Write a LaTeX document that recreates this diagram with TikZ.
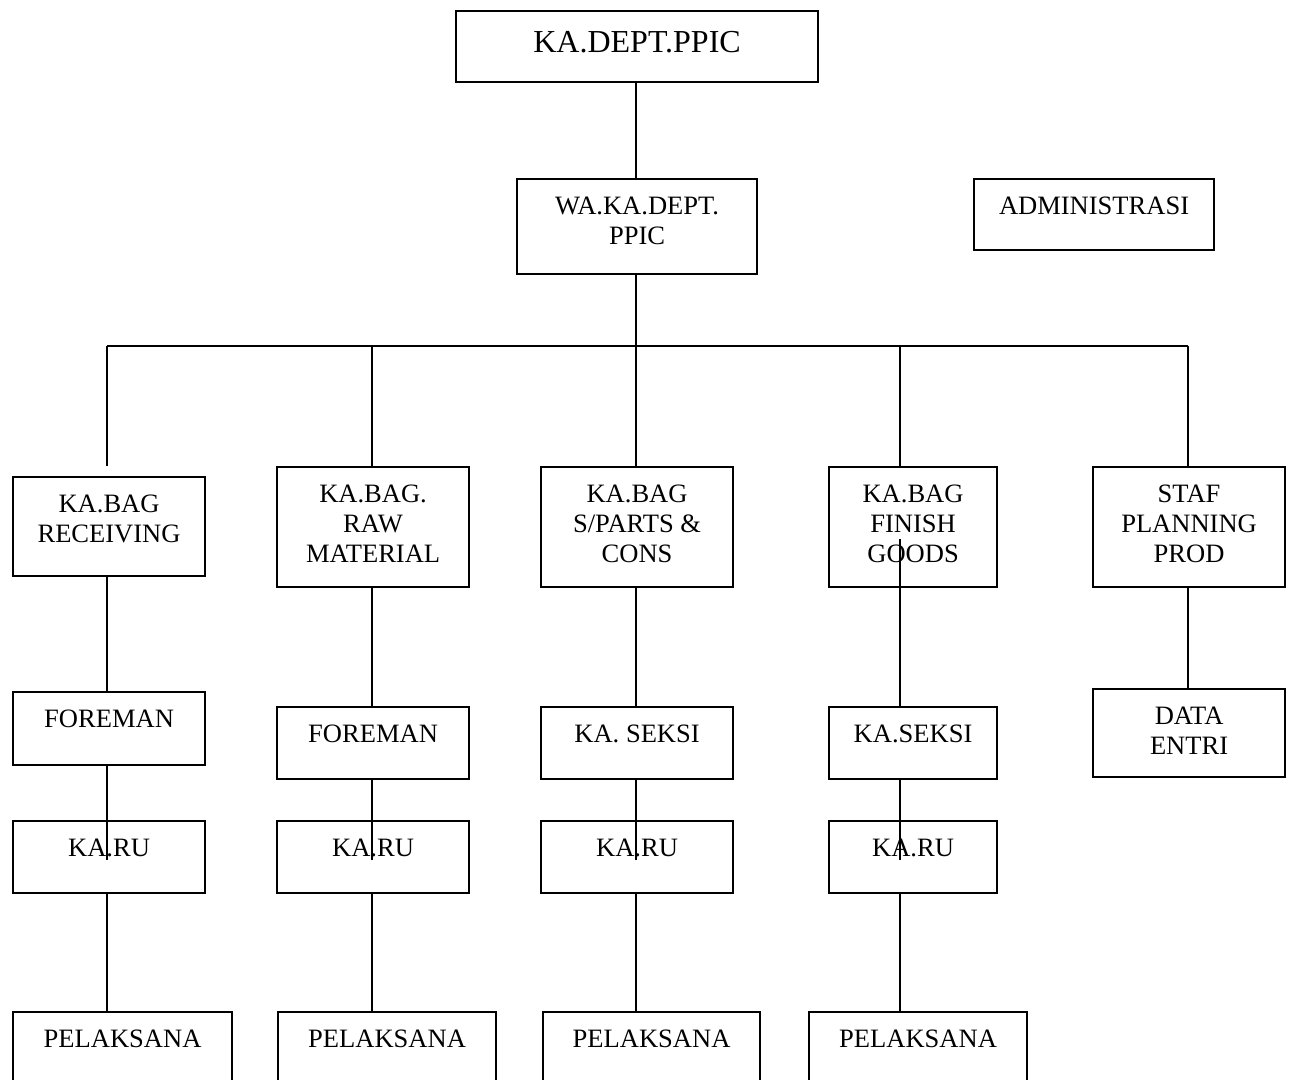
\documentclass[tikz,border=0pt]{standalone}
\usepackage{fontspec}
\setmainfont{Liberation Serif}
\usetikzlibrary{calc}
\tikzset{
  orgbox/.style={draw, line width=1.6pt, rectangle, inner sep=0pt, anchor=north west},
  orgtext/.style={anchor=north, inner sep=0pt, align=center,
    font=\fontsize{19.9pt}{22.5pt}\selectfont},
  toptext/.style={orgtext, font=\fontsize{24pt}{27pt}\selectfont},
  link/.style={line width=1.4pt},
}
% box from (left,top) to (right,bottom), text hung from the top edge
\newcommand{\orgunit}[7][orgtext]{%
  \node[orgbox, minimum width={(#5-#3)*0.75pt}, minimum height={(#6-#4)*0.75pt}] (#2) at (#3,#4) {};
  \node[#1] (#2-t) at ($(#2.north)+(0,19)$) {#7};
}
\begin{document}
\begin{tikzpicture}[x=0.75pt, y=-0.75pt]
\useasboundingbox (0,0) rectangle (1291,1079);
\clip (0,0) rectangle (1291,1079);

% top levels
\node[orgbox, minimum width={(817-455)*0.75pt}, minimum height={(81-10)*0.75pt}] (dept) at (455,10) {};
\node[toptext] (dept-t) at ($(dept.north)+(0,21)$) {KA.DEPT.PPIC};
\orgunit{wadept}{516}{178}{756}{273}{WA.KA.DEPT.\\PPIC}
\orgunit{admin}{973}{178}{1213}{249}{ADMINISTRASI}

% section heads
\orgunit{recv}{12}{476}{204}{575}{KA.BAG\\RECEIVING}
\orgunit{raw}{276}{466}{468}{586}{KA.BAG.\\RAW\\MATERIAL}
\orgunit{spart}{540}{466}{732}{586}{KA.BAG\\S/PARTS \&\\CONS}
\orgunit{finish}{828}{466}{996}{586}{KA.BAG\\FINISH\\GOODS}
\orgunit{staf}{1092}{466}{1284}{586}{STAF\\PLANNING\\PROD}

% second level
\orgunit{fore1}{12}{691}{204}{764}{FOREMAN}
\orgunit{fore2}{276}{706}{468}{778}{FOREMAN}
\orgunit{sek3}{540}{706}{732}{778}{KA. SEKSI}
\orgunit{sek4}{828}{706}{996}{778}{KA.SEKSI}
\orgunit{data}{1092}{688}{1284}{776}{DATA\\ENTRI}

% group leaders
\orgunit{karu1}{12}{820}{204}{892}{KA.RU}
\orgunit{karu2}{276}{820}{468}{892}{KA.RU}
\orgunit{karu3}{540}{820}{732}{892}{KA.RU}
\orgunit{karu4}{828}{820}{996}{892}{KA.RU}

% staff
\orgunit{pel1}{12}{1011}{231}{1100}{PELAKSANA}
\orgunit{pel2}{277}{1011}{495}{1100}{PELAKSANA}
\orgunit{pel3}{542}{1011}{759}{1100}{PELAKSANA}
\orgunit{pel4}{808}{1011}{1026}{1100}{PELAKSANA}

% bus and column coordinates
\coordinate (busA) at (107,346);
\coordinate (busB) at (372,346);
\coordinate (busC) at (636,346);
\coordinate (busD) at (900,346);
\coordinate (busE) at (1188,346);

% connectors
\draw[link] (busC |- dept.south) -- (busC |- wadept.north);
\draw[link] (busC |- wadept.south) -- (busC);
\draw[link] (busA) -- (busE);
\draw[link] (busA) -- ($(busA |- recv.north)+(0,-10)$);
\draw[link] (busB) -- (busB |- raw.north);
\draw[link] (busC) -- (busC |- spart.north);
\draw[link] (busD) -- (busD |- finish.north);
\draw[link] (busE) -- (busE |- staf.north);

% column A
\draw[link] (busA |- recv.south) -- (busA |- fore1.north);
\draw[link] (busA |- fore1.south) -- ($(busA |- karu1.north)+(0,40)$);
\draw[link] (busA |- karu1.south) -- (busA |- pel1.north);
% column B
\draw[link] (busB |- raw.south) -- (busB |- fore2.north);
\draw[link] (busB |- fore2.south) -- ($(busB |- karu2.north)+(0,40)$);
\draw[link] (busB |- karu2.south) -- (busB |- pel2.north);
% column C
\draw[link] (busC |- spart.south) -- (busC |- sek3.north);
\draw[link] (busC |- sek3.south) -- ($(busC |- karu3.north)+(0,40)$);
\draw[link] (busC |- karu3.south) -- (busC |- pel3.north);
% column D
\draw[link] ($(busD |- finish.south)+(0,-49)$) -- (busD |- sek4.north);
\draw[link] ($(busD |- sek4.south)+(0,-1)$) -- ($(busD |- karu4.north)+(0,40)$);
\draw[link] (busD |- karu4.south) -- (busD |- pel4.north);
% column E
\draw[link] (busE |- staf.south) -- (busE |- data.north);
\end{tikzpicture}
\end{document}
